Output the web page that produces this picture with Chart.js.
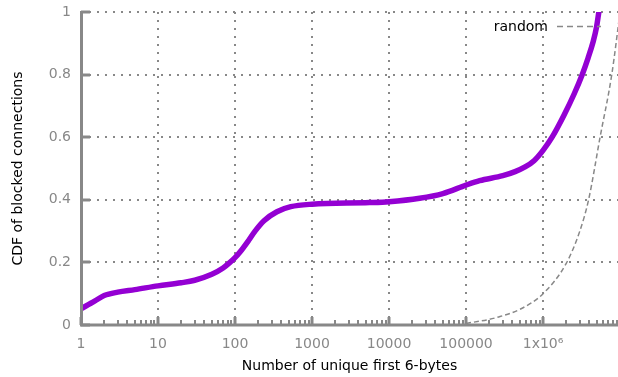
<!DOCTYPE html>
<html>
<head>
<meta charset="utf-8">
<script src="https://cdn.jsdelivr.net/npm/chart.js@4/dist/chart.umd.min.js"></script>
<style>
  html, body { margin: 0; padding: 0; background: #fff; }
  canvas { display: block; }
</style>
</head>
<body>
<canvas id="c" width="618" height="377"></canvas>
<script>
// ---- data ----
const blockedX = [1, 1.5, 2, 3, 5, 10, 20, 30, 50, 70, 86, 100, 116, 150, 182, 240, 350, 530, 1000, 5600, 10000, 25000, 50000, 100000, 150000, 300000, 433000, 584000, 764000, 1000000, 1310000, 1875000, 2530000, 3210000, 3840000, 4460000, 4950000, 5300000];
const blockedY = [0.052, 0.076, 0.094, 0.105, 0.113, 0.125, 0.135, 0.143, 0.162, 0.182, 0.2, 0.215, 0.233, 0.270, 0.300, 0.334, 0.362, 0.378, 0.386, 0.391, 0.394, 0.405, 0.42, 0.447, 0.461, 0.477, 0.49, 0.505, 0.525, 0.558, 0.60, 0.671, 0.738, 0.799, 0.853, 0.904, 0.952, 1.0];
const randomX = [100000, 200000, 276000, 500000, 1000000, 2000000, 3000000, 3900000, 5500000, 7800000, 10000000];
const randomY = [0.005, 0.018, 0.027, 0.05, 0.10, 0.197, 0.30, 0.40, 0.60, 0.80, 1.0];
const xTickValues = [1, 10, 100, 1000, 10000, 100000, 1000000];
const xTickLabels = ['1', '10', '100', '1000', '10000', '100000', '1x10\u2076'];
const yTickValues = [0, 0.2, 0.4, 0.6, 0.8, 1];
const xMin = 1, xMax = 9.4e6;
const legendLabel = 'random';
const xTitle = 'Number of unique first 6-bytes';
const yTitle = 'CDF of blocked connections';

const GRAY = '#888888';
const FONT = "'DejaVu Sans', sans-serif";

const toPts = (xs, ys) => xs.map((x, i) => ({ x: x, y: ys[i] }));

// axis lines, inward tick marks and the inset legend
const gnuplotDecor = {
  id: 'gnuplotDecor',
  afterDatasetsDraw(chart) {
    const { ctx, chartArea: a, scales: { x, y } } = chart;
    ctx.save();
    ctx.strokeStyle = GRAY;
    ctx.lineCap = 'butt';
    // axis lines
    ctx.lineWidth = 3;
    ctx.beginPath();
    ctx.moveTo(a.left + 0.5, a.top - 1);
    ctx.lineTo(a.left + 0.5, a.bottom);
    ctx.lineTo(a.right, a.bottom);
    ctx.stroke();
    // y major ticks
    ctx.lineWidth = 3;
    yTickValues.forEach(v => {
      const py = Math.round(y.getPixelForValue(v));
      ctx.beginPath();
      ctx.moveTo(a.left, py);
      ctx.lineTo(a.left + 9, py);
      ctx.stroke();
    });
    // x major + minor ticks
    for (let d = 1; d <= 1e6; d *= 10) {
      for (let m = 1; m <= 9; m++) {
        const v = d * m;
        if (v > xMax) break;
        const px = Math.round(x.getPixelForValue(v));
        const major = m === 1;
        ctx.lineWidth = major ? 3 : 2;
        ctx.beginPath();
        ctx.moveTo(px, a.bottom);
        ctx.lineTo(px, a.bottom - (major ? 8 : 5));
        ctx.stroke();
      }
    }
    // legend
    ctx.fillStyle = '#000';
    ctx.font = '14px ' + FONT;
    ctx.textAlign = 'right';
    ctx.textBaseline = 'middle';
    ctx.fillText(legendLabel, 548, 27);
    ctx.strokeStyle = GRAY;
    ctx.lineWidth = 1.5;
    ctx.setLineDash([6, 4]);
    ctx.beginPath();
    ctx.moveTo(557, 26.5);
    ctx.lineTo(601, 26.5);
    ctx.stroke();
    ctx.restore();
  }
};

new Chart(document.getElementById('c'), {
  type: 'line',
  data: {
    datasets: [
      {
        label: legendLabel,
        data: toPts(randomX, randomY),
        borderColor: GRAY,
        borderWidth: 1.5,
        borderDash: [5, 3],
        pointRadius: 0,
        cubicInterpolationMode: 'monotone',
        fill: false
      },
      {
        label: 'blocked',
        data: toPts(blockedX, blockedY),
        borderColor: '#9400D3',
        borderWidth: 5.5,
        pointRadius: 0,
        cubicInterpolationMode: 'monotone',
        borderCapStyle: 'round',
        fill: false
      }
    ]
  },
  options: {
    responsive: false,
    devicePixelRatio: 1,
    animation: false,
    events: [],
    layout: { padding: { left: 0, right: 0, top: 12, bottom: 0 } },
    plugins: { legend: { display: false }, tooltip: { enabled: false } },
    scales: {
      x: {
        type: 'logarithmic',
        min: xMin,
        max: xMax,
        afterBuildTicks: s => { s.ticks = xTickValues.map(v => ({ value: v })); },
        afterFit: s => { s.height = 52; s.paddingLeft = 0; s.paddingRight = 0; },
        ticks: {
          autoSkip: false,
          maxRotation: 0,
          padding: 11,
          color: GRAY,
          font: { family: FONT, size: 14 },
          callback: (val, i) => xTickLabels[i]
        },
        grid: { color: GRAY, lineWidth: 2, drawTicks: false },
        border: { display: false, dash: [2, 6] },
        title: {
          display: true,
          text: xTitle,
          color: '#000',
          font: { family: FONT, size: 14 },
          padding: { top: 0, bottom: 2 }
        }
      },
      y: {
        type: 'linear',
        min: 0,
        max: 1,
        afterBuildTicks: s => { s.ticks = yTickValues.map(v => ({ value: v })); },
        afterFit: s => { s.width = 81; s.paddingTop = 0; s.paddingBottom = 0; },
        ticks: {
          padding: 10,
          color: GRAY,
          font: { family: FONT, size: 14 },
          callback: v => String(+v.toFixed(1))
        },
        grid: { color: GRAY, lineWidth: 2, drawTicks: false },
        border: { display: false, dash: [2, 6] },
        title: {
          display: true,
          text: yTitle,
          color: '#000',
          font: { family: FONT, size: 14 },
          padding: { top: 10, bottom: 0 }
        }
      }
    }
  },
  plugins: [gnuplotDecor]
});
</script>
</body>
</html>
